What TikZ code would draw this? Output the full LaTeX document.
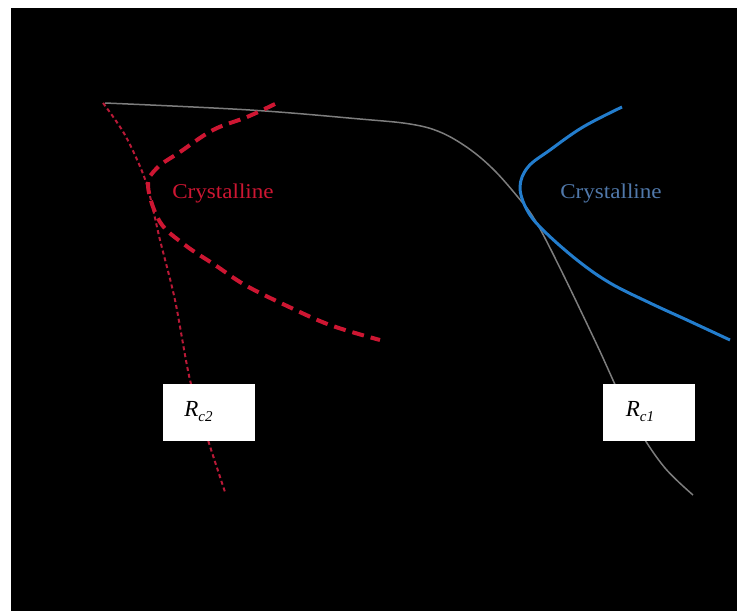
\documentclass[tikz,border=0pt]{standalone}
\usepackage{fontspec}
\setmainfont{Liberation Serif}
\newfontfamily\crysfont[FakeStretch=1.1]{Liberation Serif}
\definecolor{crimsonA}{RGB}{205,22,50}
\definecolor{crimsonB}{RGB}{185,25,55}
\definecolor{greyline}{RGB}{125,125,125}
\definecolor{blueline}{RGB}{35,125,205}
\definecolor{bluetext}{RGB}{80,120,170}
\tikzset{
  labelbox/.style={draw=none, fill=white, minimum width=92pt, minimum height=57pt, inner sep=0pt},
  crystext/.style={font=\crysfont\fontsize{21}{24}\selectfont, inner sep=0pt},
}
\newcommand{\Rlabel}[1]{\fontsize{23}{26}\selectfont\textit{R}\raisebox{-5pt}{\fontsize{15}{15}\selectfont\textit{#1}}}
\begin{document}
\begin{tikzpicture}[x=1pt,y=-1pt]
\useasboundingbox (0,0) rectangle (737,611);
\fill[white] (0,0) rectangle (737,611);
\fill[black] (11,8) rectangle (737,611);
% grey solid curve
\draw[greyline, line width=1.5pt] plot[smooth, tension=0.6] coordinates {
  (105,103) (250,110) (360,119) (410,124) (440,132) (468,148) (493,169) (517,196)
  (535,220) (560,268) (597,345) (620,395) (640,432) (665,468) (693,495)};
% red thin dashed line
\draw[crimsonB, line width=2pt, dash pattern=on 4pt off 3pt] plot[smooth, tension=0.5] coordinates {
  (103,103) (125,135) (146,182) (160,240) (175,300) (190,380) (208,440) (225,492)};
% red thick dashed curve
\draw[crimsonA, line width=4pt, dash pattern=on 12pt off 7pt] plot[smooth, tension=0.6] coordinates {
  (275,104) (247,117) (213,130) (180,152) (157,168) (148,186) (160,222)
  (185,245) (215,265) (245,285) (285,305) (330,325) (380,340)};
% blue solid curve
\draw[blueline, line width=3pt] plot[smooth, tension=0.6] coordinates {
  (622,107) (583,127) (550,150) (528,167) (520,187) (527,210) (543,230)
  (577,260) (610,283) (650,303) (687,320) (730,340)};
% labels
\node[crystext, text=crimsonA] (cr) at (223,193) {Crystalline};
\node[crystext, text=bluetext] (cb) at (611,193) {Crystalline};
\node[labelbox] (rc2) at (208.5,412) {\Rlabel{c2}\hspace*{20pt}};
\node[labelbox] (rc1) at (649,412) {\Rlabel{c1}\hspace*{18pt}};
\end{tikzpicture}
\end{document}
